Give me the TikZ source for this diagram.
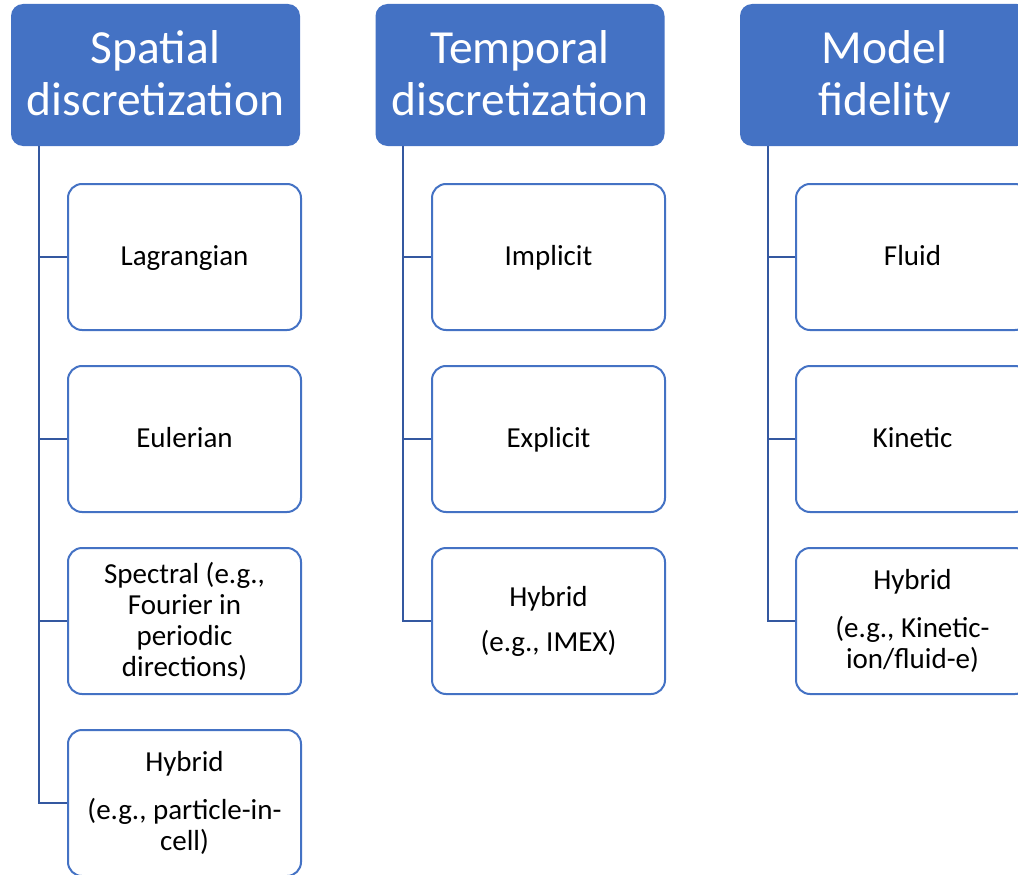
\documentclass[tikz,border=0pt]{standalone}
\usepackage{fontspec}
\setmainfont{Carlito}
\usetikzlibrary{calc}
\definecolor{hdr}{HTML}{4472C4}
\definecolor{trunk}{RGB}{52,88,160}
\newcommand{\toprl}{\rule{0pt}{36.4pt}}
\newcommand{\botrl}{\rule[-8.4pt]{0pt}{8.4pt}}
\tikzset{
  hdrbox/.style={fill=hdr, rounded corners=12pt, minimum width=289pt, minimum height=142pt,
    inner sep=0pt, text=white, align=center, font=\fontsize{47.5}{52}\selectfont},
  childbox/.style={draw=hdr, fill=white, line width=2pt, rounded corners=14pt,
    minimum width=233pt, minimum height=146pt, inner sep=0pt, align=center,
    font=\fontsize{29}{31}\selectfont},
  singlebox/.style={childbox, text height=21pt, text depth=5pt},
  conn/.style={draw=trunk, line width=2pt}
}
\begin{document}
\begin{tikzpicture}[x=1pt,y=-1pt]
\useasboundingbox (0,0) rectangle (1018,875);
\clip (0,0) rectangle (1018,875);
% headers
\node[hdrbox] (h1) at (155.5,75) {\toprl Spatial\\discretization\botrl};
\node[hdrbox] (h2) at (520,75) {\toprl Temporal\\discretization\botrl};
\node[hdrbox] (h3) at (884.5,75) {\toprl Model\\fidelity\botrl};
% trunk tops
\coordinate (t1) at ($(h1.south west)+(28,0)$);
\coordinate (t2) at ($(h2.south west)+(28,0)$);
\coordinate (t3) at ($(h3.south west)+(28,0)$);
% column 1
\node[singlebox] (c11) at (184.5,257) {Lagrangian};
\node[singlebox] (c12) at (184.5,439) {Eulerian};
\node[childbox] (c13) at (184.5,621) {Spectral (e.g.,\\Fourier in\\periodic\\directions)};
\node[childbox] (c14) at (184.5,803) {Hybrid\\[17pt](e.g., particle-in-\\cell)};
% column 2
\node[singlebox] (c21) at (548.5,257) {Implicit};
\node[singlebox] (c22) at (548.5,439) {Explicit};
\node[childbox] (c23) at (548.5,621) {Hybrid\\[14pt](e.g., IMEX)};
% column 3
\node[singlebox] (c31) at (912.5,257) {Fluid};
\node[singlebox] (c32) at (912.5,439) {Kinetic};
\node[childbox] (c33) at (912.5,621) {Hybrid\\[17pt](e.g., Kinetic-\\ion/fluid-e)};
% connectors
\draw[conn] (t1) |- (c14.west);
\draw[conn] (t1 |- c11.west) -- (c11.west);
\draw[conn] (t1 |- c12.west) -- (c12.west);
\draw[conn] (t1 |- c13.west) -- (c13.west);
\draw[conn] (t2) |- (c23.west);
\draw[conn] (t2 |- c21.west) -- (c21.west);
\draw[conn] (t2 |- c22.west) -- (c22.west);
\draw[conn] (t3) |- (c33.west);
\draw[conn] (t3 |- c31.west) -- (c31.west);
\draw[conn] (t3 |- c32.west) -- (c32.west);
\end{tikzpicture}
\end{document}
